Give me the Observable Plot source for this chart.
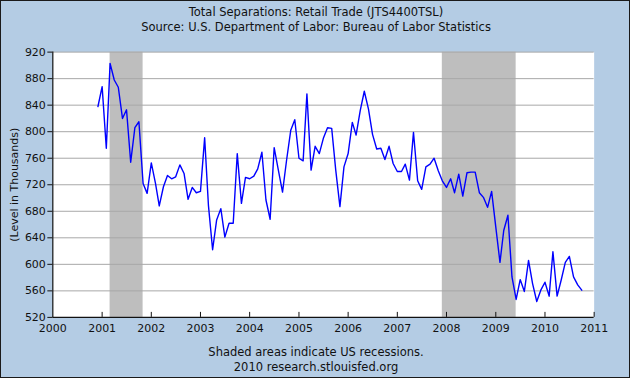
<!DOCTYPE html>
<html>
<head>
<meta charset="utf-8">
<script src="https://cdn.jsdelivr.net/npm/d3@7"></script>
<script src="https://cdn.jsdelivr.net/npm/@observablehq/plot@0.6"></script>
<style>
  html, body { margin: 0; padding: 0; background: #fff; }
  #wrap { position: relative; width: 628px; height: 376px; border: 1px solid #1a1a1a; background: #b4cce4; overflow: hidden; font-family: "DejaVu Sans", Verdana, sans-serif; color: #111; }
  #chart { position: absolute; left: -1px; top: -1px; }
  .txt { position: absolute; left: 0; width: 630px; text-align: center; font-size: 11.5px; line-height: 14px; }
</style>
</head>
<body>
<div id="wrap">
  <div id="chart"></div>
  <div class="txt" style="top:4px">Total Separations: Retail Trade (JTS4400TSL)</div>
  <div class="txt" style="top:19px">Source: U.S. Department of Labor: Bureau of Labor Statistics</div>
  <div class="txt" style="top:344px">Shaded areas indicate US recessions.</div>
  <div class="txt" style="top:359px">2010 research.stlouisfed.org</div>
</div>
<script>
// Monthly values, Dec 2000 .. Oct 2010 (thousands)
const startMonth = "2000-12";
const values = [
  838,
  868, 775, 903, 878, 867, 820, 833, 754, 806, 815, 722, 707,
  753, 722, 688, 717, 734, 729, 732, 750, 737, 698, 716, 708,
  710, 791, 689, 622, 667, 684, 641, 662, 662, 767, 692, 731,
  729, 733, 744, 769, 697, 668, 776, 742, 709, 757, 802, 818,
  760, 756, 857, 742, 778, 767, 790, 806, 805, 742, 687, 747,
  767, 814, 795, 832, 861, 834, 796, 774, 775, 758, 778, 752,
  740, 740, 751, 727, 799, 726, 713, 747, 751, 760, 741, 726,
  716, 729, 708, 736, 703, 738, 739, 739, 708, 701, 686, 710,
  656, 603, 651, 674, 581, 547, 577, 559, 606, 571, 544, 561,
  573, 552, 619, 552, 576, 603, 612, 581, 569, 561
];
const recessionStarts = ["2001-03-01", "2007-12-01"];
const recessionEnds = ["2001-11-01", "2009-06-01"];
const yTicks = [520, 560, 600, 640, 680, 720, 760, 800, 840, 880, 920];
const xYears = [2000, 2001, 2002, 2003, 2004, 2005, 2006, 2007, 2008, 2009, 2010, 2011];

const t0 = new Date(startMonth + "-01T00:00:00Z");
const data = values.map((v, i) => ({date: d3.utcMonth.offset(t0, i), value: v}));
const recessions = recessionStarts.map((s, i) => ({start: new Date(s + "T00:00:00Z"), end: new Date(recessionEnds[i] + "T00:00:00Z")}));
const yearDates = xYears.map(y => new Date(Date.UTC(y, 0, 1)));

const mL = 52.4, mR = 630 - 594.6, mT = 51.7, mB = 378 - 317.4;
const innerH = 378 - mT - mB;

const chart = Plot.plot({
  width: 630,
  height: 378,
  marginLeft: mL,
  marginRight: mR,
  marginTop: mT,
  marginBottom: mB,
  style: {background: "transparent", fontFamily: "DejaVu Sans, Verdana, sans-serif", fontSize: "11px", color: "#111"},
  x: {type: "utc", domain: [yearDates[0], yearDates[yearDates.length - 1]]},
  y: {domain: [yTicks[0], yTicks[yTicks.length - 1]]},
  marks: [
    Plot.frame({fill: "white", stroke: "none"}),
    Plot.rect(recessions, {x1: "start", x2: "end", fill: "#bebebe"}),
    Plot.ruleY(yTicks.slice(1), {stroke: "#a8a8a8", strokeWidth: 1}),
    Plot.line(data, {x: "date", y: "value", stroke: "#0000ff", strokeWidth: 1.4}),
    Plot.ruleX(yearDates.slice(1), {stroke: "#111", insetTop: innerH - 5}),
    Plot.ruleY([yTicks[0]], {stroke: "#111", strokeWidth: 1.2}),
    Plot.ruleX([yearDates[0]], {stroke: "#111", strokeWidth: 1.2}),
    Plot.axisX(yearDates, {tickSize: 0, tickPadding: 7, tickFormat: d3.utcFormat("%Y"), label: null}),
    Plot.axisY(yTicks, {tickSize: 5, tickPadding: 2, label: "(Level in Thousands)", labelAnchor: "center", labelArrow: "none", labelOffset: 43})
  ]
});
document.getElementById("chart").appendChild(chart);
</script>
</body>
</html>
